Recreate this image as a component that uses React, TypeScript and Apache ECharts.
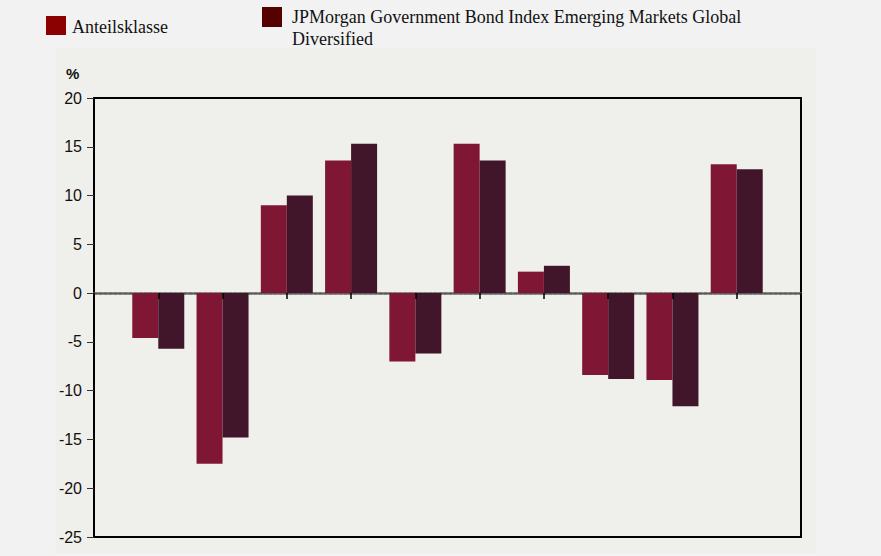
import React, { useEffect, useRef } from "react";
import * as echarts from "echarts";

const categories = ["", "1", "2", "3", "4", "5", "6", "7", "8", "9", "10", ""];
const seriesNames = ["Anteilsklasse", "JPMorgan Government Bond Index Emerging Markets Global Diversified"];
const shareClass = [null, -4.6, -17.5, 9.0, 13.6, -7.0, 15.3, 2.2, -8.4, -8.9, 13.2, null];
const benchmark = [null, -5.7, -14.8, 10.0, 15.3, -6.2, 13.6, 2.8, -8.8, -11.6, 12.7, null];
const yMin = -25;
const yMax = 20;
const yStep = 5;

export default function App() {
  const ref = useRef<HTMLDivElement>(null);
  useEffect(() => {
    document.body.style.margin = "0";
    const chart = echarts.init(ref.current!, null, { renderer: "svg" });
    chart.setOption({
      animation: false,
      backgroundColor: "#f2f2f2",
      graphic: [
        { type: "rect", z: -10, shape: { x: 56, y: 48, width: 760, height: 505 }, style: { fill: "#efefeb" } },
        { type: "rect", shape: { x: 46, y: 16, width: 20, height: 19 }, style: { fill: "#8b0000" } },
        { type: "text", x: 72, y: 27, style: { text: seriesNames[0], font: "18px 'Liberation Serif'", fill: "#111", verticalAlign: "middle" } },
        { type: "rect", shape: { x: 262, y: 7, width: 20, height: 20 }, style: { fill: "#560000" } },
        { type: "text", x: 292, y: 6, style: { text: "JPMorgan Government Bond Index Emerging Markets Global\nDiversified", font: "18px 'Liberation Serif'", lineHeight: 22, fill: "#111", verticalAlign: "top" } },
        { type: "text", x: 66, y: 73, style: { text: "%", font: "bold 15px 'Liberation Sans'", fill: "#111", verticalAlign: "middle" } },
      ],
      grid: { left: 94, top: 98, right: 80, bottom: 19, show: true, borderColor: "#000", borderWidth: 2, backgroundColor: "transparent" },
      xAxis: [
        {
          type: "category",
          data: categories,
          boundaryGap: false,
          z: 0,
          axisLine: { onZero: true, onZeroAxisIndex: 0, lineStyle: { color: "#5c5c5c", width: 2.5, type: [3, 2] } },
          axisTick: { show: false },
          axisLabel: { show: false },
          splitLine: { show: false },
        },
        {
          type: "category",
          data: categories,
          boundaryGap: false,
          position: "bottom",
          z: 3,
          axisLine: { show: true, onZero: true, onZeroAxisIndex: 1, lineStyle: { opacity: 0, width: 0 } },
          axisTick: { show: true, interval: 0, length: 6, lineStyle: { color: "#000", width: 1.5 } },
          axisLabel: { show: false },
          splitLine: { show: false },
        },
      ],
      yAxis: [
        {
          type: "value",
          min: yMin,
          max: yMax,
          interval: yStep,
          axisLine: { show: true, lineStyle: { color: "#000", width: 2 } },
          axisTick: { show: true, length: 7, lineStyle: { color: "#333", width: 1 } },
          axisLabel: { color: "#111", fontSize: 16, fontFamily: "'Liberation Sans'", margin: 12 },
          splitLine: { show: false },
        },
        {
          type: "value",
          min: yMin,
          max: yMax,
          interval: yStep,
          position: "left",
          axisLine: { show: false },
          axisTick: { show: false },
          axisLabel: { show: false },
          splitLine: { show: false },
        },
      ],
      series: [
        { name: seriesNames[0], type: "bar", xAxisIndex: 0, yAxisIndex: 0, data: shareClass, barWidth: 26, barGap: "0%", itemStyle: { color: "#7f1734" } },
        { name: seriesNames[1], type: "bar", xAxisIndex: 0, yAxisIndex: 0, data: benchmark, barWidth: 26, barGap: "0%", itemStyle: { color: "#42162a" } },
      ],
    });
    return () => chart.dispose();
  }, []);
  return <div ref={ref} style={{ width: 881, height: 556 }} />;
}
